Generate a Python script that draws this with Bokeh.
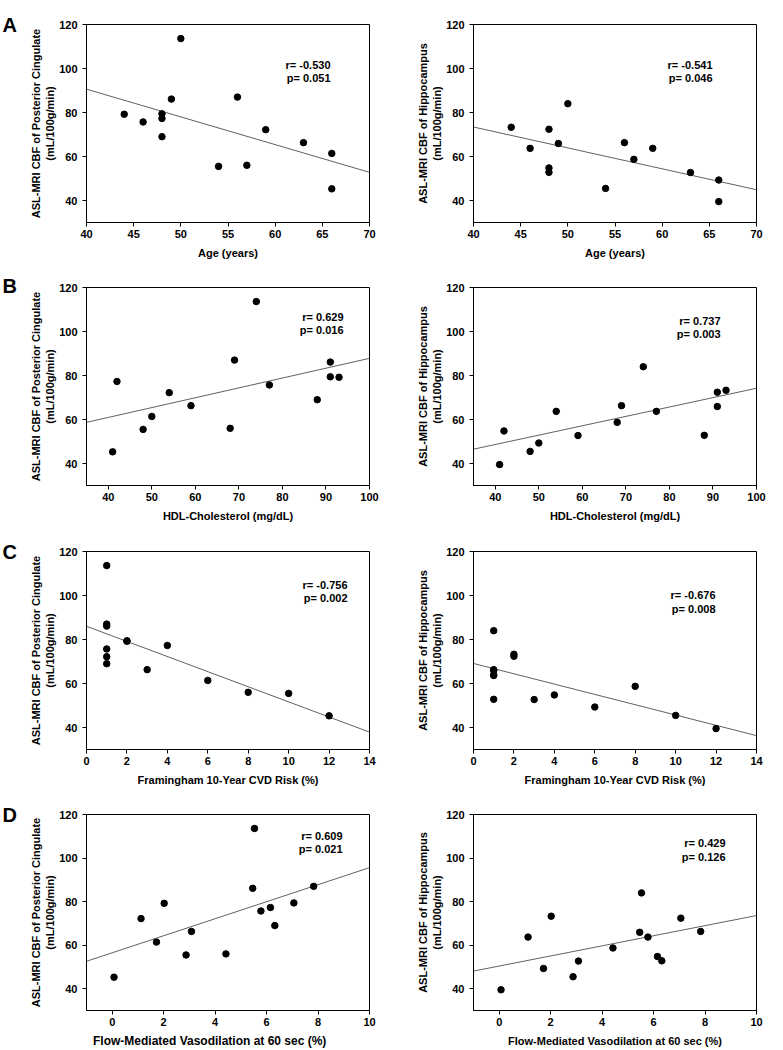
from bokeh.plotting import figure
from bokeh.models import Range1d, FixedTicker, Label, Title
from bokeh.layouts import column, row
from bokeh.embed import file_html
from bokeh.resources import INLINE

# ---- data (one entry per subject) ----
age = [44, 46, 48, 48, 48, 49, 50, 54, 56, 57, 59, 63, 66, 66]
hdl = [93, 77, 91, 42, 88, 91, 74, 48, 69, 68, 54, 59, 50, 41]
risk = [2, 1, 2, 4, 1, 1, 1, 10, 1, 8, 1, 3, 6, 12]
fmd = [2.02, 5.78, 7.06, 6.15, 6.32, 5.46, 5.53, 2.87, 7.83, 4.42, 1.12, 3.08, 1.72, 0.07]
cbf_pcc = [79.2, 75.7, 79.4, 77.3, 69.0, 86.1, 113.6, 55.5, 87.0, 56.0, 72.2, 66.3, 61.4, 45.3]
cbf_hip = [73.3, 63.7, 72.4, 54.8, 52.8, 65.9, 84.0, 45.5, 66.3, 58.7, 63.7, 52.7, 49.3, 39.5]

# regression lines: values at the two ends of each x range
fit_age_x = [40, 70]
fit_age_pcc = [90.6, 52.8]
fit_age_hip = [73.4, 44.9]
fit_hdl_x = [35, 100]
fit_hdl_pcc = [58.7, 87.8]
fit_hdl_hip = [46.5, 74.2]
fit_risk_x = [0, 14]
fit_risk_pcc = [86.0, 37.9]
fit_risk_hip = [69.1, 36.3]
fit_fmd_x = [-1, 10]
fit_fmd_pcc = [52.6, 95.6]
fit_fmd_hip = [48.1, 73.6]

r_pcc = ["r= -0.530", "r= 0.629", "r= -0.756", "r= 0.609"]
p_pcc = ["p= 0.051", "p= 0.016", "p= 0.002", "p= 0.021"]
r_hip = ["r= -0.541", "r= 0.737", "r= -0.676", "r= 0.429"]
p_hip = ["p= 0.046", "p= 0.003", "p= 0.008", "p= 0.126"]

x_labels = ["Age (years)", "HDL-Cholesterol (mg/dL)",
            "Framingham 10-Year CVD Risk (%)", "Flow-Mediated Vasodilation at 60 sec (%)"]
x_ranges = [(40, 70), (35, 100), (0, 14), (-1, 10)]
x_ticks = [[40, 45, 50, 55, 60, 65, 70], [40, 50, 60, 70, 80, 90, 100],
           [0, 2, 4, 6, 8, 10, 12, 14], [0, 2, 4, 6, 8, 10]]
y_ticks = [40, 60, 80, 100, 120]
y_range = (30, 120)
y_label_pcc = "ASL-MRI CBF of Posterior Cingulate\n(mL/100g/min)"
y_label_hip = "ASL-MRI CBF of Hippocampus\n(mL/100g/min)"
letters = ["A", "B", "C", "D"]

FONT = "Liberation Sans"
FRAME_H = 198
# (top border, bottom border) per row
row_borders = [(24, 46), (19, 45), (21, 43), (22, 38)]
# (left border, frame width, right border) per column
col_geom = [(86, 283, 21), (83, 283, 26)]
# text positions: (right edge from frame left, r-line centre below frame top)
txt_pos = [[(244, 40), (239, 40)], [(257, 29.5), (247, 33)],
           [(261, 33.3), (242, 43.6)], [(256, 23), (252, 30.6)]]
letter_standoff = [-22, -18, -22, -22]

xs_all = [age, hdl, risk, fmd]
fits_x = [fit_age_x, fit_hdl_x, fit_risk_x, fit_fmd_x]
fits_pcc = [fit_age_pcc, fit_hdl_pcc, fit_risk_pcc, fit_fmd_pcc]
fits_hip = [fit_age_hip, fit_hdl_hip, fit_risk_hip, fit_fmd_hip]


def make_panel(ri, ci):
    tb, bb = row_borders[ri]
    lb, fw, rb = col_geom[ci]
    yv = cbf_pcc if ci == 0 else cbf_hip
    fy = fits_pcc[ri] if ci == 0 else fits_hip[ri]
    if ci == 0:
        ttl = Title(text=letters[ri], align="left", offset=2 - lb, vertical_align="bottom",
                    standoff=letter_standoff[ri], text_font=FONT, text_font_style="bold",
                    text_font_size="20px", text_color="black")
    else:
        ttl = None
    p = figure(width=lb + fw + rb, height=tb + FRAME_H + bb,
               min_border_left=lb, min_border_right=rb,
               min_border_top=tb, min_border_bottom=bb,
               x_range=Range1d(*x_ranges[ri]), y_range=Range1d(*y_range),
               toolbar_location=None, output_backend="svg", title=ttl)
    p.xgrid.visible = False
    p.ygrid.visible = False
    p.outline_line_color = "black"
    p.outline_line_width = 1
    p.background_fill_color = "white"
    p.border_fill_color = "white"

    for ax in (p.xaxis[0], p.yaxis[0]):
        ax.axis_line_color = "black"
        ax.major_tick_line_color = "black"
        ax.major_tick_out = 4
        ax.major_tick_in = 0
        ax.minor_tick_line_color = None
        ax.major_label_text_font = FONT
        ax.major_label_text_font_style = "bold"
        ax.major_label_text_font_size = "11px"
        ax.major_label_text_color = "black"
        ax.axis_label_text_font = FONT
        ax.axis_label_text_font_style = "bold"
        ax.axis_label_text_font_size = "11px"
        ax.axis_label_text_color = "black"

    p.xaxis[0].ticker = FixedTicker(ticks=x_ticks[ri])
    p.yaxis[0].ticker = FixedTicker(ticks=y_ticks)
    xl = x_labels[ri]
    if ri == 3 and ci == 0:
        # this label is drawn larger and sits left of centre in the original
        xl = xl + "\u00a0" * 11
        p.xaxis[0].axis_label_text_font_size = "12px"
    p.xaxis[0].axis_label = xl
    p.yaxis[0].axis_label = y_label_pcc if ci == 0 else y_label_hip
    p.xaxis[0].major_label_standoff = 3
    p.yaxis[0].major_label_standoff = 5
    p.xaxis[0].axis_label_standoff = 6 if not (ri == 3 and ci == 0) else 5
    p.yaxis[0].axis_label_standoff = 0

    p.line(fits_x[ri], fy, line_color="#606060", line_width=1)
    p.scatter(xs_all[ri], yv, size=6.5, fill_color="black", line_color="black")

    rx, ry = txt_pos[ri][ci]
    rtxt = r_pcc[ri] if ci == 0 else r_hip[ri]
    ptxt = p_pcc[ri] if ci == 0 else p_hip[ri]
    for k, t in enumerate([rtxt, ptxt]):
        p.add_layout(Label(x=rx, y=FRAME_H - ry - 13.4 * k, x_units="screen", y_units="screen",
                           text=t, text_align="right", text_baseline="middle",
                           text_font=FONT, text_font_style="bold", text_font_size="11px",
                           text_color="black"))
    return p


rows = []
for ri in range(4):
    rows.append(row(make_panel(ri, 0), make_panel(ri, 1)))
layout = column(*rows)

open("out.html", "w").write(file_html(layout, INLINE))
